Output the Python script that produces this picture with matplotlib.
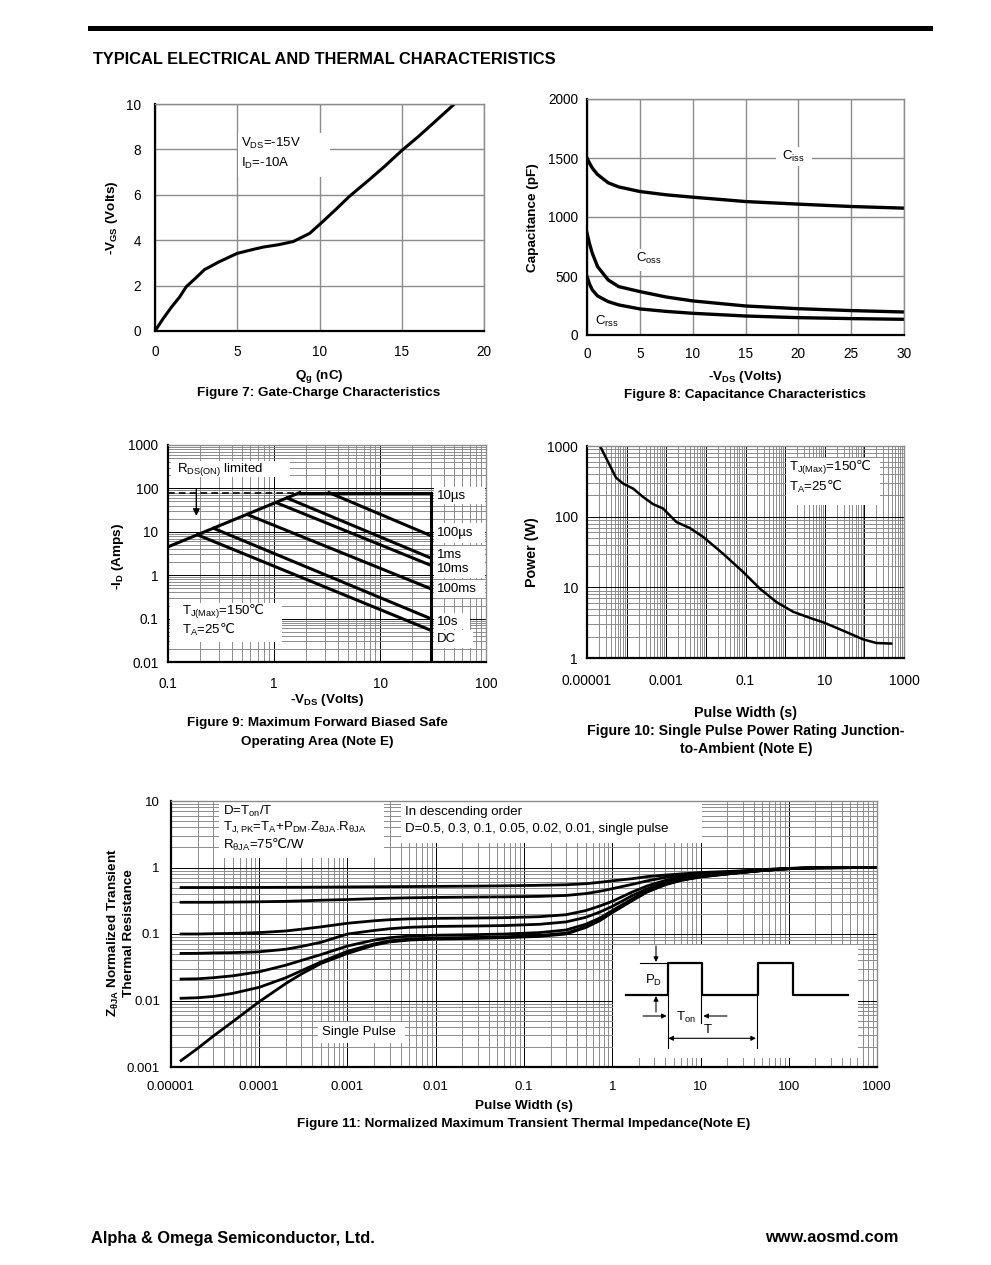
import numpy as np
import matplotlib
matplotlib.use("Agg")
import matplotlib.pyplot as plt
from matplotlib.patches import Rectangle
from matplotlib.ticker import LogLocator, NullFormatter

plt.rcParams["font.family"] = ["Liberation Sans", "DejaVu Sans"]
plt.rcParams["mathtext.fontset"] = "custom"
plt.rcParams["mathtext.rm"] = "DejaVu Sans"
plt.rcParams["mathtext.default"] = "regular"
plt.rcParams["font.size"] = 9.5

W, H = 991, 1265
GRAY = "#8c8c8c"
TICK = 9.8   # tick label size
NOTE = 9.5   # annotation size
LAB = 9.7    # bold axis labels / captions
DEG = r"$\mathrm{℃}$"

# ---------------- data ----------------
# Figure 7: gate charge
qg = [0, 0.5, 1.0, 1.5, 1.9, 2.5, 3.0, 3.9, 5.0, 6.0, 6.6, 7.5, 8.4, 9.4,
      10.2, 11.0, 11.8, 13.0, 14.0, 15.0, 16.0, 17.0, 18.2]
vgs = [0, 0.55, 1.05, 1.5, 1.95, 2.35, 2.7, 3.05, 3.42, 3.6, 3.7, 3.8, 3.94,
       4.3, 4.82, 5.36, 5.92, 6.65, 7.28, 7.95, 8.56, 9.21, 10.0]

# Figure 8: capacitance
vds_cap = [0, 0.25, 0.5, 1, 2, 3, 5, 7.5, 10, 15, 20, 25, 30]
ciss = [1500, 1455, 1415, 1360, 1290, 1255, 1216, 1188, 1168, 1131, 1109, 1089, 1075]
coss = [863, 770, 693, 580, 467, 410, 368, 322, 289, 246, 223, 207, 195]
crss = [495, 430, 382, 331, 283, 255, 221, 200, 184, 161, 147, 139, 133]

# Figure 9: safe operating area
rds_v = [0.1, 1.75]
rds_i = [4.5, 80]
id_max = 80
vds_max = 30
soa_names = ["100µs", "1ms", "10ms", "100ms", "10s", "DC"]
soa_v_start = [3.3, 1.33, 1.05, 0.56, 0.27, 0.19]
soa_i_start = [80, 60, 47, 25, 12, 8.5]
soa_i_end = [8.2, 2.5, 1.7, 0.49, 0.1, 0.054]

# Figure 10: single pulse power
t_pw = [2.13e-5, 5.4e-5, 8.2e-5, 1.47e-4, 2.6e-4, 4.7e-4, 8.4e-4, 1.12e-3,
        1.8e-3, 3.95e-3, 8.6e-3, 2.7e-2, 0.087, 0.23, 0.6, 1.6, 4.2, 9.1,
        16.2, 35, 92, 200, 475]
p_pw = [1000, 356, 293, 249, 190, 150, 130, 110, 84, 69, 51.5, 30, 16.5,
        9.6, 6.2, 4.5, 3.7, 3.2, 2.8, 2.33, 1.84, 1.63, 1.6]

# Figure 11: normalized transient thermal impedance
t_z = [1.3e-5, 2e-5, 3e-5, 5e-5, 1e-4, 2e-4, 3e-4, 5e-4, 1e-3, 2e-3, 3e-3, 5e-3,
       0.01, 0.03, 0.06, 0.15, 0.3, 0.5, 0.73, 1.0, 1.7, 2.5, 4, 6, 10, 24, 50,
       100, 200, 1000]
z_d50 = [0.5, 0.5, 0.5, 0.501, 0.502, 0.504, 0.505, 0.507, 0.51, 0.513, 0.515, 0.517,
         0.52, 0.525, 0.53, 0.54, 0.55, 0.57, 0.6, 0.63, 0.68, 0.73, 0.77, 0.8, 0.84,
         0.88, 0.93, 0.97, 0.99, 1.0]
z_d30 = [0.3, 0.3, 0.3, 0.302, 0.305, 0.31, 0.315, 0.322, 0.33, 0.34, 0.345, 0.35,
         0.355, 0.36, 0.362, 0.368, 0.38, 0.405, 0.44, 0.48, 0.56, 0.63, 0.71, 0.76, 0.8,
         0.86, 0.92, 0.97, 0.99, 1.0]
z_d10 = [0.1, 0.1, 0.101, 0.102, 0.105, 0.111, 0.118, 0.128, 0.145, 0.158, 0.164, 0.169,
         0.172, 0.174, 0.176, 0.182, 0.195, 0.225, 0.265, 0.31, 0.43, 0.53, 0.64, 0.71, 0.77,
         0.845, 0.91, 0.965, 0.99, 1.0]
z_d05 = [0.051, 0.0512, 0.052, 0.0525, 0.054, 0.059, 0.065, 0.075, 0.1, 0.113, 0.12, 0.126,
         0.13, 0.132, 0.134, 0.14, 0.152, 0.178, 0.215, 0.26, 0.38, 0.48, 0.6, 0.675, 0.75,
         0.83, 0.905, 0.96, 0.99, 1.0]
z_d02 = [0.021, 0.0212, 0.022, 0.0235, 0.027, 0.034, 0.04, 0.049, 0.066, 0.081, 0.088, 0.093,
         0.096, 0.098, 0.1, 0.105, 0.115, 0.14, 0.175, 0.225, 0.34, 0.45, 0.57, 0.655, 0.735,
         0.825, 0.9, 0.96, 0.99, 1.0]
z_d01 = [0.0108, 0.011, 0.0115, 0.0128, 0.0158, 0.022, 0.028, 0.038, 0.055, 0.071, 0.079, 0.084,
         0.087, 0.089, 0.091, 0.095, 0.103, 0.128, 0.163, 0.213, 0.325, 0.435, 0.56, 0.645, 0.725,
         0.82, 0.9, 0.96, 0.99, 1.0]
z_single = [0.00125, 0.0019, 0.0029, 0.0048, 0.0096, 0.018, 0.025, 0.036, 0.051, 0.068, 0.076,
            0.081, 0.084, 0.086, 0.088, 0.092, 0.1, 0.125, 0.16, 0.21, 0.32, 0.43, 0.55, 0.64,
            0.72, 0.82, 0.9, 0.96, 0.99, 1.0]

# pulse sketch for the inset (sketch units)
pulse_u = [13, 54.7, 54.7, 88.7, 88.7, 145.3, 145.3, 179.7, 179.7, 235.3]
pulse_v = [63, 63, 95, 95, 63, 63, 95, 95, 63, 63]

# ---------------- helpers ----------------
fig = plt.figure(figsize=(W / 100, H / 100), dpi=100)


def add_ax(r):
    l, t, rr, b = r
    return fig.add_axes([l / W, 1 - b / H, (rr - l) / W, (b - t) / H])


def style(ax, tick=TICK):
    ax.set_axisbelow(True)
    for s in ("top", "right"):
        ax.spines[s].set_color(GRAY)
        ax.spines[s].set_linewidth(1)
    for s in ("left", "bottom"):
        ax.spines[s].set_color("black")
        ax.spines[s].set_linewidth(1.6)
    ax.tick_params(which="both", length=0, labelsize=tick)


def log_grid(ax):
    for axis in (ax.xaxis, ax.yaxis):
        axis.set_minor_locator(LogLocator(base=10, subs=np.arange(2, 10), numticks=100))
        axis.set_minor_formatter(NullFormatter())
    ax.grid(True, which="major", color="black", lw=0.7)
    ax.grid(True, which="minor", color=GRAY, lw=0.7)


def fpos(r, x, y):
    l, t, rr, b = r
    return (x - l) / (rr - l), (b - y) / (b - t)


def white_box(ax, r, x0, y0, x1, y1):
    fx0, fy0 = fpos(r, x0, y1)
    fx1, fy1 = fpos(r, x1, y0)
    ax.add_patch(Rectangle((fx0, fy0), fx1 - fx0, fy1 - fy0, transform=ax.transAxes,
                           fc="white", ec="none", zorder=1))


def ax_text(ax, r, x, y, s, size=NOTE, **kw):
    fx, fy = fpos(r, x, y)
    ax.text(fx, fy, s, transform=ax.transAxes, va="center", zorder=3, fontsize=size, **kw)


def page_text(x, y, s, size=LAB, **kw):
    kw.setdefault("va", "center")
    kw.setdefault("fontweight", "bold")
    fig.text(x / W, 1 - y / H, s, fontsize=size, **kw)


# ---------------- page furniture ----------------
fig.add_artist(plt.Line2D([90 / W, 930 / W], [1 - 28 / H, 1 - 28 / H], color="black", lw=3.6))
page_text(93, 60, "TYPICAL ELECTRICAL AND THERMAL CHARACTERISTICS", size=11.8)
page_text(91, 1238, "Alpha & Omega Semiconductor, Ltd.", size=11.8)
page_text(898, 1238, "www.aosmd.com", size=11.8, ha="right")

# ---------------- Figure 7 ----------------
R7 = (155, 104, 484, 331)
ax7 = add_ax(R7)
style(ax7)
ax7.plot(qg, vgs, color="black", lw=2.2, zorder=2)
ax7.set_xlim(0, 20)
ax7.set_ylim(0, 10)
ax7.set_xticks([0, 5, 10, 15, 20])
ax7.set_yticks([0, 2, 4, 6, 8, 10])
ax7.grid(True, color=GRAY, lw=1)
ax7.tick_params(axis="x", pad=10)
ax7.tick_params(axis="y", pad=10)
white_box(ax7, R7, 237.5, 133, 330, 177)
ax_text(ax7, R7, 241, 143, "V$_{DS}$=-15V")
ax_text(ax7, R7, 241, 163, "I$_{D}$=-10A")
page_text(112, 218, "-V$_{GS}$ (Volts)", rotation=90, ha="center")
page_text(319, 376, "Q$_{g}$ (nC)", ha="center")
page_text(319, 393, "Figure 7: Gate-Charge Characteristics", ha="center")

# ---------------- Figure 8 ----------------
R8 = (587, 99, 904, 335)
ax8 = add_ax(R8)
style(ax8)
for c in (ciss, coss, crss):
    ax8.plot(vds_cap, c, color="black", lw=2.4, zorder=2)
ax8.set_xlim(0, 30)
ax8.set_ylim(0, 2000)
ax8.set_xticks([0, 5, 10, 15, 20, 25, 30])
ax8.set_yticks([0, 500, 1000, 1500, 2000])
ax8.grid(True, color=GRAY, lw=1)
ax8.tick_params(axis="x", pad=9)
ax8.tick_params(axis="y", pad=6.5)
white_box(ax8, R8, 776, 147, 812, 166)
ax_text(ax8, R8, 782, 156, "C$_{iss}$")
white_box(ax8, R8, 634, 249, 664, 271)
ax_text(ax8, R8, 636, 258, "C$_{oss}$")
ax_text(ax8, R8, 595, 321, "C$_{rss}$")
page_text(533, 218, "Capacitance (pF)", rotation=90, ha="center")
page_text(745, 377, "-V$_{DS}$ (Volts)", ha="center")
page_text(745, 395, "Figure 8: Capacitance Characteristics", ha="center")

# ---------------- Figure 9 ----------------
R9 = (168, 445, 486, 662)
ax9 = add_ax(R9)
style(ax9)
ax9.set_xscale("log")
ax9.set_yscale("log")
ax9.set_xlim(0.1, 100)
ax9.set_ylim(0.01, 1000)
log_grid(ax9)
ax9.set_xticks([0.1, 1, 10, 100])
ax9.set_xticklabels(["0.1", "1", "10", "100"])
ax9.set_yticks([0.01, 0.1, 1, 10, 100, 1000])
ax9.set_yticklabels(["0.01", "0.1", "1", "10", "100", "1000"])
ax9.tick_params(axis="x", pad=10.5)
ax9.tick_params(axis="y", pad=7)
ax9.plot(rds_v, rds_i, color="black", lw=2.2, zorder=2)
ax9.plot([rds_v[0], rds_v[1]], [id_max, id_max], color="black", lw=1.2, ls=(0, (4, 2.5)), zorder=2)
ax9.plot([rds_v[1], vds_max], [id_max, id_max], color="black", lw=2.2, zorder=2)
ax9.plot([vds_max, vds_max], [0.01, id_max], color="black", lw=2.2, zorder=2)
for v0, i0, i1 in zip(soa_v_start, soa_i_start, soa_i_end):
    ax9.plot([v0, vds_max], [i0, i1], color="black", lw=2.2, zorder=2)
ax9.annotate("", xy=(0.185, 20), xytext=(0.185, 110),
             arrowprops=dict(arrowstyle="-|>", color="black", lw=1, mutation_scale=10), zorder=3)
white_box(ax9, R9, 171, 461, 290, 477)
ax_text(ax9, R9, 177, 470, "R$_{DS(ON)}$ limited")
white_box(ax9, R9, 170, 603, 282, 642)
ax_text(ax9, R9, 182, 612, "T$_{J(Max)}$=150" + DEG)
ax_text(ax9, R9, 182, 630, "T$_{A}$=25" + DEG)
soa_label_y = [496, 533, 555, 569, 589, 622, 639]
soa_label_txt = ["10µs"] + soa_names
white_box(ax9, R9, 434, 487, 485, 504)
white_box(ax9, R9, 434, 523, 485, 543)
white_box(ax9, R9, 434, 546, 485, 578)
white_box(ax9, R9, 434, 580, 485, 598)
white_box(ax9, R9, 434, 613, 470, 629)
white_box(ax9, R9, 434, 630, 473, 648)
for yy, s in zip(soa_label_y, soa_label_txt):
    ax_text(ax9, R9, 437, yy, s)
page_text(118, 556, "-I$_{D}$ (Amps)", rotation=90, ha="center")
page_text(327, 700, "-V$_{DS}$ (Volts)", ha="center")
page_text(317, 723, "Figure 9: Maximum Forward Biased Safe", ha="center")
page_text(317, 742, "Operating Area (Note E)", ha="center")

# ---------------- Figure 10 ----------------
R10 = (587, 446, 904, 658)
ax10 = add_ax(R10)
style(ax10, tick=10)
ax10.set_xscale("log")
ax10.set_yscale("log")
ax10.set_xlim(1e-5, 1000)
ax10.set_ylim(1, 1000)
log_grid(ax10)
ax10.set_xticks([1e-5, 1e-4, 1e-3, 1e-2, 0.1, 1, 10, 100, 1000])
ax10.set_xticklabels(["0.00001", "", "0.001", "", "0.1", "", "10", "", "1000"])
ax10.set_yticks([1, 10, 100, 1000])
ax10.set_yticklabels(["1", "10", "100", "1000"])
ax10.tick_params(axis="x", pad=11.5)
ax10.tick_params(axis="y", pad=6.5)
ax10.plot(t_pw, p_pw, color="black", lw=1.8, zorder=2)
white_box(ax10, R10, 786, 458, 880, 505)
ax_text(ax10, R10, 789, 468, "T$_{J(Max)}$=150" + DEG)
ax_text(ax10, R10, 789, 487, "T$_{A}$=25" + DEG)
page_text(532, 552, "Power (W)", size=10.3, rotation=90, ha="center")
page_text(745, 713, "Pulse Width (s)", size=10.3, ha="center")
page_text(746, 731, "Figure 10: Single Pulse Power Rating Junction-", size=10.2, ha="center")
page_text(746, 749, "to-Ambient (Note E)", size=10.2, ha="center")

# ---------------- Figure 11 ----------------
R11 = (171, 801, 877, 1067)
ax11 = add_ax(R11)
style(ax11, tick=9.5)
ax11.set_xscale("log")
ax11.set_yscale("log")
ax11.set_xlim(1e-5, 1000)
ax11.set_ylim(0.001, 10)
log_grid(ax11)
ax11.set_xticks([1e-5, 1e-4, 1e-3, 1e-2, 0.1, 1, 10, 100, 1000])
ax11.set_xticklabels(["0.00001", "0.0001", "0.001", "0.01", "0.1", "1", "10", "100", "1000"])
ax11.set_yticks([0.001, 0.01, 0.1, 1, 10])
ax11.set_yticklabels(["0.001", "0.01", "0.1", "1", "10"])
ax11.tick_params(axis="x", pad=10)
ax11.tick_params(axis="y", pad=8)
for z in (z_d50, z_d30, z_d10, z_d05, z_d02, z_d01, z_single):
    ax11.plot(t_z, z, color="black", lw=2.0, zorder=2)
white_box(ax11, R11, 219, 801, 384, 858)
ax_text(ax11, R11, 223, 811, "D=T$_{on}$/T")
ax_text(ax11, R11, 223, 828, "T$_{J,PK}$=T$_{A}$+P$_{DM}$.Z$_{θJA}$.R$_{θJA}$")
ax_text(ax11, R11, 223, 845, "R$_{θJA}$=75" + DEG + "/W")
white_box(ax11, R11, 401, 801, 702, 843)
ax_text(ax11, R11, 405, 812, "In descending order")
ax_text(ax11, R11, 405, 829, "D=0.5, 0.3, 0.1, 0.05, 0.02, 0.01, single pulse")
white_box(ax11, R11, 318, 1022, 405, 1043)
ax_text(ax11, R11, 322, 1032, "Single Pulse")
page_text(113, 933, "Z$_{θJA}$ Normalized Transient", rotation=90, ha="center")
page_text(129, 933, "Thermal Resistance", rotation=90, ha="center")
page_text(524, 1106, "Pulse Width (s)", ha="center")
page_text(524, 1124, "Figure 11: Normalized Maximum Transient Thermal Impedance(Note E)", ha="center")

# inset pulse sketch
ins = add_ax((613, 945, 858, 1058))
ins.set_xlim(0, 245)
ins.set_ylim(0, 113)
ins.axis("off")
ins.add_patch(Rectangle((0, 0), 1, 1, transform=ins.transAxes, fc="white", ec="none", zorder=0))
ins.plot(pulse_u, pulse_v, color="black", lw=1.6)
ins.plot([27, 55], [95, 95], color="black", lw=0.8)
ins.plot([54.7, 54.7], [63, 9.7], color="black", lw=0.8)
ins.plot([87.7, 87.7], [63, 34.7], color="black", lw=0.8)
ins.plot([143.7, 143.7], [63, 9.7], color="black", lw=0.8)
arr = dict(arrowstyle="-|>", color="black", lw=0.8, mutation_scale=7, shrinkA=0, shrinkB=0)
ins.annotate("", xy=(43, 96), xytext=(43, 112), arrowprops=arr)
ins.annotate("", xy=(43, 62), xytext=(43, 46), arrowprops=arr)
ins.annotate("", xy=(53.7, 42), xytext=(30, 42), arrowprops=arr)
ins.annotate("", xy=(90.3, 42), xytext=(114, 42), arrowprops=arr)
ins.annotate("", xy=(55.3, 19.7), xytext=(143, 19.7),
             arrowprops=dict(arrowstyle="<|-|>", color="black", lw=0.8, mutation_scale=7,
                             shrinkA=0, shrinkB=0))
ins.text(41, 78, "P$_{D}$", ha="center", va="center", fontsize=NOTE)
ins.text(63.5, 41, "T$_{on}$", ha="left", va="center", fontsize=NOTE)
ins.text(95, 28, "T", ha="center", va="center", fontsize=NOTE)

fig.savefig("out.png", dpi=100)
